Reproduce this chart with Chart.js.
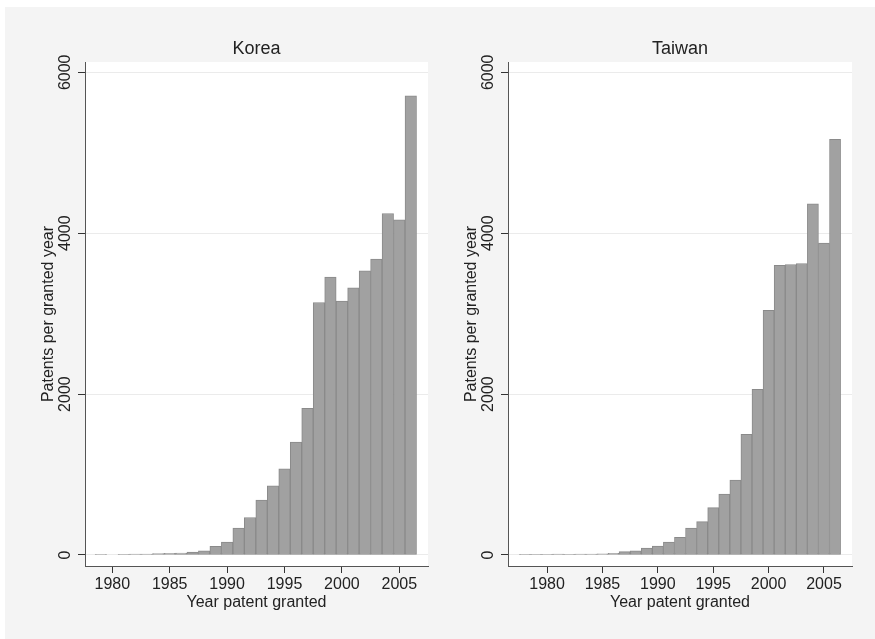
<!DOCTYPE html>
<html>
<head>
<meta charset="utf-8">
<script src="https://cdn.jsdelivr.net/npm/chart.js@4.4.1/dist/chart.umd.min.js"></script>
<style>
  body { margin: 0; background: #fff; overflow: hidden; width: 875px; height: 639px; position: relative; }
  #bg { position: absolute; left: 5px; top: 7px; width: 870px; height: 632px; background: #f4f4f4; }
  canvas { position: absolute; top: 0; }
</style>
</head>
<body>
<div id="bg"></div>
<canvas id="korea" width="437" height="639" style="left:0px"></canvas>
<canvas id="taiwan" width="452" height="639" style="left:423px"></canvas>
<script>
// --- data ---
const koreaYears = [1979, 1980, 1981, 1982, 1983, 1984, 1985, 1986, 1987, 1988, 1989, 1990, 1991, 1992,
  1993, 1994, 1995, 1996, 1997, 1998, 1999, 2000, 2001, 2002, 2003, 2004, 2005, 2006];
const koreaPatents = [5, 0, 8, 12, 12, 18, 20, 24, 37, 53, 106, 160, 333, 466,
  682, 859, 1072, 1402, 1823, 3139, 3453, 3155, 3321, 3532, 3677, 4245, 4165, 5706];

const taiwanYears = [1978, 1979, 1980, 1981, 1982, 1983, 1984, 1985, 1986, 1987, 1988, 1989, 1990, 1991,
  1992, 1993, 1994, 1995, 1996, 1997, 1998, 1999, 2000, 2001, 2002, 2003, 2004, 2005, 2006];
const taiwanPatents = [3, 4, 5, 10, 9, 11, 11, 14, 20, 42, 52, 85, 112, 161,
  220, 335, 414, 588, 758, 932, 1499, 2058, 3040, 3602, 3611, 3623, 4364, 3876, 5168];

const xTicks = [1980, 1985, 1990, 1995, 2000, 2005];
const yTicks = [0, 2000, 4000, 6000];

const FONT = "'Liberation Sans', Arial, Helvetica, sans-serif";
const TXT = '#222';

// white plot region on the grey page
const plotBg = {
  id: 'plotBg',
  beforeDraw(c) {
    const a = c.chartArea;
    c.ctx.save();
    c.ctx.fillStyle = '#fff';
    c.ctx.fillRect(a.left, a.top, a.right - a.left, a.bottom - a.top);
    c.ctx.restore();
  }
};

function panel(id, title, years, vals, xMin, xMax, rightPad) {
  return new Chart(document.getElementById(id), {
    type: 'bar',
    data: {
      datasets: [{
        data: years.map((yr, i) => ({ x: yr, y: vals[i] })),
        backgroundColor: '#a1a1a1',
        borderColor: '#8a8a8a',
        borderWidth: 1,
        borderSkipped: false,
        barPercentage: 1,
        categoryPercentage: 1
      }]
    },
    options: {
      responsive: false,
      animation: false,
      devicePixelRatio: 1,
      layout: { padding: { left: 0, right: rightPad, top: 0, bottom: 0 } },
      plugins: {
        legend: { display: false },
        tooltip: { enabled: false }
      },
      scales: {
        // panel title, centred over the plot region
        top: {
          type: 'linear', position: 'top', min: xMin, max: xMax, offset: false,
          afterFit: s => { s.height = 62; },
          grid: { display: false },
          border: { display: false },
          ticks: { display: false },
          title: {
            display: true, text: title, color: TXT,
            font: { family: FONT, size: 18 }, padding: { top: 38.2, bottom: 0 }
          }
        },
        x: {
          type: 'linear', min: xMin, max: xMax, offset: false,
          afterBuildTicks: s => { s.ticks = xTicks.map(v => ({ value: v })); },
          afterFit: s => { s.height = 73; },
          grid: { drawOnChartArea: false, offset: false, tickLength: 7, tickColor: '#333' },
          border: { display: true, color: '#555', width: 1 },
          ticks: {
            color: TXT, font: { family: FONT, size: 16 }, padding: 1.5,
            minRotation: 0, maxRotation: 0, autoSkip: false,
            callback: v => String(v)
          },
          title: {
            display: true, text: 'Year patent granted', color: TXT,
            font: { family: FONT, size: 16 }, padding: { top: 0, bottom: 27 }
          }
        },
        y: {
          min: -137, max: 6128,
          afterBuildTicks: s => { s.ticks = yTicks.map(v => ({ value: v })); },
          afterFit: s => { s.width = 85; },
          grid: { color: '#ebebeb', tickColor: '#333', tickLength: 7 },
          border: { display: true, color: '#555', width: 1 },
          ticks: {
            color: TXT, font: { family: FONT, size: 16 },
            minRotation: 90, maxRotation: 90, crossAlign: 'center', padding: -5.8,
            callback: v => String(v)
          },
          title: {
            display: true, text: 'Patents per granted year', color: TXT,
            font: { family: FONT, size: 16 }, padding: { top: 39, bottom: 0 }
          }
        }
      }
    },
    plugins: [plotBg]
  });
}

panel('korea', 'Korea', koreaYears, koreaPatents, 1977.62, 2007.5, 9);
panel('taiwan', 'Taiwan', taiwanYears, taiwanPatents, 1976.47, 2007.53, 23);
</script>
</body>
</html>
